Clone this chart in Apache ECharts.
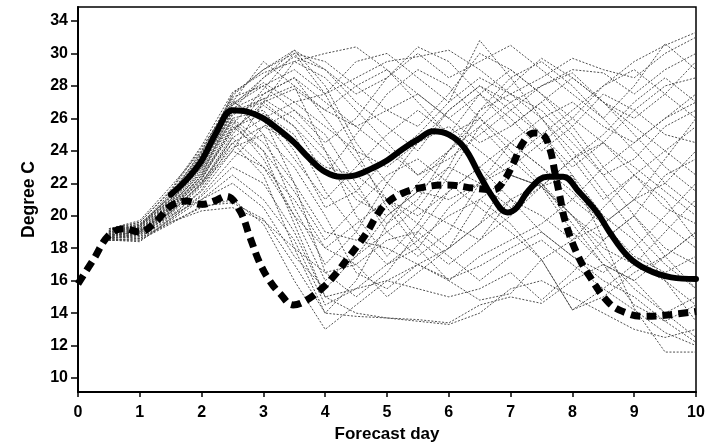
<!DOCTYPE html>
<html>
<head>
<meta charset="utf-8">
<script src="https://cdn.jsdelivr.net/npm/echarts@6/dist/echarts.min.js"></script>
<style>
  html, body { margin: 0; padding: 0; background: #fff; }
  #chart { width: 716px; height: 444px; }
</style>
</head>
<body>
<div id="chart"></div>
<script>
// Forecast days at which each ensemble member is given
const memberDays = [0.5, 1, 1.5, 2, 2.5, 3, 3.5, 4, 4.5, 5, 5.5, 6, 6.5, 7, 7.5, 8, 8.5, 9, 9.5, 10];

// Ensemble members (degree C), one array per member
const e01 = [18.8,19.0,20.5,22.5,26.5,28.5,30.2,29.0,27.0,25.5,24.0,26.5,28.0,27.0,25.0,26.5,28.0,29.5,30.5,31.3];
const e02 = [19.0,19.4,21.0,23.5,27.5,29.0,30.2,28.0,24.5,22.0,20.5,23.0,26.5,28.5,29.5,28.0,26.0,24.0,22.0,20.5];
const e03 = [18.6,18.8,20.0,21.5,24.0,27.0,29.5,30.0,30.4,29.0,27.5,26.0,27.5,29.0,27.5,25.5,23.0,21.0,19.5,18.0];
const e04 = [18.9,19.2,20.8,23.0,26.5,26.0,22.0,16.5,15.0,16.5,19.0,21.5,23.0,21.0,19.0,17.5,16.0,15.0,13.5,12.2];
const e05 = [18.5,18.5,19.6,20.5,21.0,19.5,16.0,13.0,14.5,16.0,15.5,15.0,15.5,16.5,14.8,16.5,18.5,20.0,17.5,15.5];
const e06 = [19.1,19.5,21.2,24.0,27.2,25.0,20.5,17.0,19.0,22.0,24.5,25.5,24.0,22.5,21.8,23.5,25.0,27.0,28.5,27.0];
const e07 = [18.7,19.1,20.2,22.0,25.0,27.5,28.5,26.0,23.5,21.0,18.5,17.0,18.5,21.0,22.0,19.5,17.0,14.5,13.5,14.5];
const e08 = [18.6,18.9,20.0,21.0,22.5,21.0,18.5,14.5,15.5,17.0,18.5,20.0,21.0,19.5,17.3,14.2,15.0,16.5,17.5,19.0];
const e09 = [19.0,19.3,21.3,23.8,26.8,28.0,29.0,27.5,29.5,30.0,28.5,27.0,28.5,27.5,26.0,27.0,25.5,24.5,26.0,27.5];
const e10 = [18.8,19.0,20.4,22.2,25.5,24.0,19.5,15.0,14.0,13.7,13.6,13.4,14.5,15.0,14.6,16.0,17.0,16.0,14.0,12.5];
const e11 = [18.5,18.4,19.8,21.3,23.5,25.5,26.5,25.0,22.0,19.0,17.5,19.0,22.0,24.5,26.0,24.0,21.5,19.0,17.0,15.5];
const e12 = [19.2,19.6,21.5,24.2,27.0,29.5,28.0,24.0,20.0,17.5,19.5,22.5,25.5,27.0,28.0,29.0,28.8,27.5,29.0,30.0];
const e13 = [18.7,19.0,20.6,22.8,26.0,26.5,24.0,20.5,21.5,23.5,25.0,27.0,30.8,28.5,26.0,23.5,21.0,22.5,24.0,25.5];
const e14 = [18.9,19.3,20.9,23.2,26.3,27.0,25.5,22.5,25.0,27.5,29.0,28.0,26.0,24.0,22.0,20.0,18.5,20.0,22.5,23.5];
const e15 = [18.6,18.7,19.9,21.6,24.5,22.5,18.0,14.0,16.0,19.5,22.0,24.0,25.5,23.5,21.8,20.0,18.0,17.0,19.0,21.0];
const e16 = [19.0,19.5,21.1,23.5,26.8,28.5,29.8,29.0,27.5,28.5,30.4,29.5,27.5,25.5,27.0,28.5,27.0,25.0,23.0,21.5];
const e17 = [18.8,19.2,20.7,22.6,25.8,23.5,20.0,18.0,17.0,15.0,16.5,18.0,19.5,22.5,21.8,22.5,20.0,18.5,16.0,13.5];
const e18 = [18.5,18.6,19.7,21.0,22.0,20.5,17.5,15.5,17.5,20.0,21.5,21.0,22.0,23.5,25.0,22.5,18.5,14.3,11.6,11.6];
const e19 = [19.1,19.4,21.0,23.8,27.3,28.0,26.5,24.5,26.0,28.5,30.0,28.5,29.5,30.5,29.0,27.5,26.0,28.0,30.6,29.0];
const e20 = [18.7,18.9,20.3,22.3,25.2,27.0,27.8,26.5,25.5,24.0,22.5,23.5,25.0,26.5,28.0,28.8,27.0,25.5,24.0,22.5];
const e21 = [18.9,19.1,20.7,22.9,26.0,24.5,22.0,19.0,18.5,18.0,17.0,16.0,17.5,18.5,19.5,21.0,23.0,24.5,26.0,27.0];
const e22 = [18.6,18.8,20.1,21.8,24.8,26.0,27.0,27.5,28.5,29.5,29.8,30.2,29.0,27.5,28.5,29.7,29.0,28.5,30.0,31.0];
const e23 = [18.8,19.1,20.6,22.4,25.6,27.8,30.0,27.5,24.0,20.5,18.0,16.0,14.8,15.2,17.3,14.2,15.5,17.0,16.0,14.5];
const e24 = [19.0,19.4,21.4,23.9,27.0,26.0,23.5,21.0,23.0,25.0,26.5,25.0,27.5,26.0,24.0,25.5,27.5,26.5,25.0,24.5];
const e25 = [18.5,18.5,19.5,20.6,20.8,19.8,17.0,14.0,13.8,13.7,13.5,13.3,14.0,15.5,16.0,15.0,14.0,13.0,12.5,13.0];
const e26 = [18.7,19.0,20.5,22.1,24.5,25.5,24.5,23.0,22.5,21.0,20.0,21.5,23.0,24.5,23.0,21.0,19.5,21.0,23.5,26.0];
const e27 = [18.9,19.2,20.8,23.3,26.6,27.5,28.5,27.0,25.5,26.5,27.5,26.0,24.5,25.5,27.0,25.0,22.5,20.0,18.0,17.0];
const e28 = [18.6,18.9,20.2,22.0,24.8,23.0,20.0,16.0,17.5,19.0,20.5,19.5,18.5,20.0,21.8,20.0,17.5,15.5,14.0,15.0];
const e29 = [19.1,19.6,21.6,24.3,27.6,28.8,29.5,28.5,26.5,24.5,22.5,24.0,26.0,28.0,29.7,28.5,27.0,26.0,27.5,29.5];
const e30 = [18.8,19.0,20.4,22.5,25.3,26.8,25.5,23.5,21.0,20.0,21.5,23.0,22.0,20.5,21.8,23.5,24.5,22.5,20.5,19.5];
const e31 = [18.7,19.1,20.6,22.7,25.9,24.0,21.5,18.5,20.5,22.5,23.5,22.0,20.5,19.0,17.3,18.5,20.5,22.5,21.0,18.5];
const e32 = [19.0,19.3,21.0,23.6,26.9,28.2,27.0,25.5,24.0,23.0,24.5,26.5,28.0,26.5,25.0,23.0,24.5,26.5,28.0,28.5];
const e33 = [18.6,18.7,19.8,21.2,23.0,22.0,19.0,15.0,15.5,16.0,17.0,18.0,19.5,21.0,20.0,18.5,19.5,21.0,22.0,24.0];
const e34 = [18.9,19.3,20.9,23.0,26.2,27.2,26.0,24.0,21.5,19.5,21.0,24.0,26.5,27.5,26.5,24.5,22.5,23.5,25.5,26.5];
const e35 = [18.8,19.0,20.3,22.0,24.2,25.0,23.0,20.0,16.5,15.5,17.0,16.1,16.9,18.0,19.0,17.5,16.5,18.0,20.0,22.0];
const e36 = [19.2,19.7,21.8,24.0,27.4,29.0,30.0,29.5,28.0,26.5,25.5,27.5,30.0,29.0,27.5,26.0,28.0,29.0,27.5,26.0];
const e37 = [18.5,18.6,19.6,20.3,20.5,19.7,18.0,16.5,17.0,18.5,19.0,17.5,16.0,17.5,18.5,17.0,15.5,14.2,12.8,12.0];
const e38 = [18.7,19.0,20.5,22.3,25.4,26.3,25.0,21.5,19.0,17.0,18.0,20.5,22.0,23.0,24.5,26.0,24.5,23.0,21.5,20.0];
const e39 = [19.0,19.4,21.2,23.7,26.4,27.2,28.0,26.5,28.0,29.0,27.0,25.0,26.0,24.5,23.0,21.5,19.5,17.5,16.5,17.5];
const e40 = [18.6,18.9,20.2,21.9,24.0,23.0,21.0,18.0,19.5,21.0,19.5,18.0,21.0,22.5,21.8,19.0,17.0,16.0,17.5,19.0];

const members = [e01,e02,e03,e04,e05,e06,e07,e08,e09,e10,e11,e12,e13,e14,e15,e16,e17,e18,e19,e20,
                 e21,e22,e23,e24,e25,e26,e27,e28,e29,e30,e31,e32,e33,e34,e35,e36,e37,e38,e39,e40];

// Ensemble mean (thick solid curve)
const meanDays = [1.5,1.75,2.0,2.25,2.5,2.75,3.0,3.25,3.5,3.75,4.0,4.25,4.5,4.75,5.0,5.25,5.5,5.75,6.0,6.25,6.5,6.7,6.95,7.1,7.3,7.6,7.85,8.1,8.4,8.6,8.9,9.2,9.6,10];
const meanTemp = [21.3,22.2,23.4,25.2,26.5,26.4,26.0,25.3,24.5,23.5,22.7,22.4,22.5,22.9,23.4,24.1,24.7,25.2,25.0,24.2,22.5,21.2,20.2,20.5,21.6,22.4,22.4,21.5,20.2,19.0,17.5,16.7,16.2,16.1];

// Verifying observation (thick dashed curve)
const obsDays = [0,0.25,0.5,0.75,1.0,1.25,1.5,1.75,2.0,2.2,2.4,2.62,2.78,2.94,3.1,3.27,3.48,3.7,3.97,4.19,4.35,4.51,4.68,4.84,5.0,5.26,5.58,5.97,6.4,6.72,6.88,7.04,7.2,7.38,7.52,7.64,7.72,7.8,7.88,8.07,8.29,8.6,8.88,9.14,9.58,10];
const obsTemp = [15.8,17.3,18.8,19.2,19.0,19.6,20.6,20.9,20.7,20.9,21.2,20.3,18.7,17.1,16.0,15.2,14.5,14.8,15.6,16.5,17.3,18.1,19.0,20.05,20.8,21.4,21.75,21.9,21.7,21.6,22.1,23.2,24.5,25.1,25.0,24.05,22.6,21.15,19.7,17.7,16.2,14.6,14.0,13.8,13.9,14.1];

// Axis ticks; the top label reads "34"
const xTicks = [0,1,2,3,4,5,6,7,8,9,10];
const yTickValues = [10,12,14,16,18,20,22,24,26,28,30,32];
const yTickLabels = ['10','12','14','16','18','20','22','24','26','28','30','34'];

const pairs = (xs, ys) => ys.map((v, i) => [xs[i], v]);
const labelFor = {};
yTickValues.forEach((v, i) => { labelFor[v] = yTickLabels[i]; });

const FONT = '"Liberation Sans", Arial, sans-serif';

const series = members.map((m, i) => ({
  name: 'member' + (i + 1),
  type: 'line',
  data: pairs(memberDays, m),
  symbol: 'none',
  silent: true,
  lineStyle: { color: '#444', width: 0.95, type: [2, 1.6] },
  z: 2
}));

series.push({
  name: 'mean',
  type: 'line',
  data: pairs(meanDays, meanTemp),
  symbol: 'none',
  smooth: 0.4,
  lineStyle: { color: '#000', width: 6, cap: 'round' },
  z: 5
});

series.push({
  name: 'observed',
  type: 'line',
  data: pairs(obsDays, obsTemp),
  symbol: 'none',
  smooth: 0.4,
  lineStyle: { color: '#000', width: 7, type: [10, 6] },
  z: 6
});

const chart = echarts.init(document.getElementById('chart'), null, { renderer: 'canvas' });
chart.setOption({
  animation: false,
  backgroundColor: '#fff',
  grid: {
    left: 78, right: 20, top: 7, bottom: 52,
    outerBoundsMode: 'none',
    containLabel: false,
    show: true, borderColor: '#000', borderWidth: 1.5, backgroundColor: 'transparent'
  },
  xAxis: {
    type: 'value',
    min: 0, max: 10, interval: 1,
    name: 'Forecast day',
    nameLocation: 'middle',
    nameGap: 33,
    nameTextStyle: { color: '#000', fontSize: 17, fontFamily: FONT, fontWeight: 'bold' },
    axisLine: { show: true, onZero: false, lineStyle: { color: '#000', width: 2 } },
    axisTick: { show: true, length: 5, lineStyle: { color: '#000', width: 1.5 } },
    axisLabel: { color: '#000', fontSize: 16, fontFamily: FONT, fontWeight: 'bold', margin: 13,
                 formatter: v => xTicks.includes(v) ? String(v) : '' },
    splitLine: { show: false }
  },
  yAxis: {
    type: 'value',
    min: 9.14, max: 32.86,
    name: 'Degree C',
    nameLocation: 'middle',
    nameGap: 40,
    nameRotate: 90,
    nameTextStyle: { color: '#000', fontSize: 17.5, fontFamily: FONT, fontWeight: 'bold' },
    axisLine: { show: true, onZero: false, lineStyle: { color: '#000', width: 2 } },
    axisTick: { show: true, length: 7, customValues: yTickValues, lineStyle: { color: '#000', width: 1.5 } },
    axisLabel: { color: '#000', fontSize: 16, fontFamily: FONT, fontWeight: 'bold', margin: 10,
                 customValues: yTickValues, formatter: v => labelFor[v] ?? '' },
    splitLine: { show: false }
  },
  series: series
});
</script>
</body>
</html>
